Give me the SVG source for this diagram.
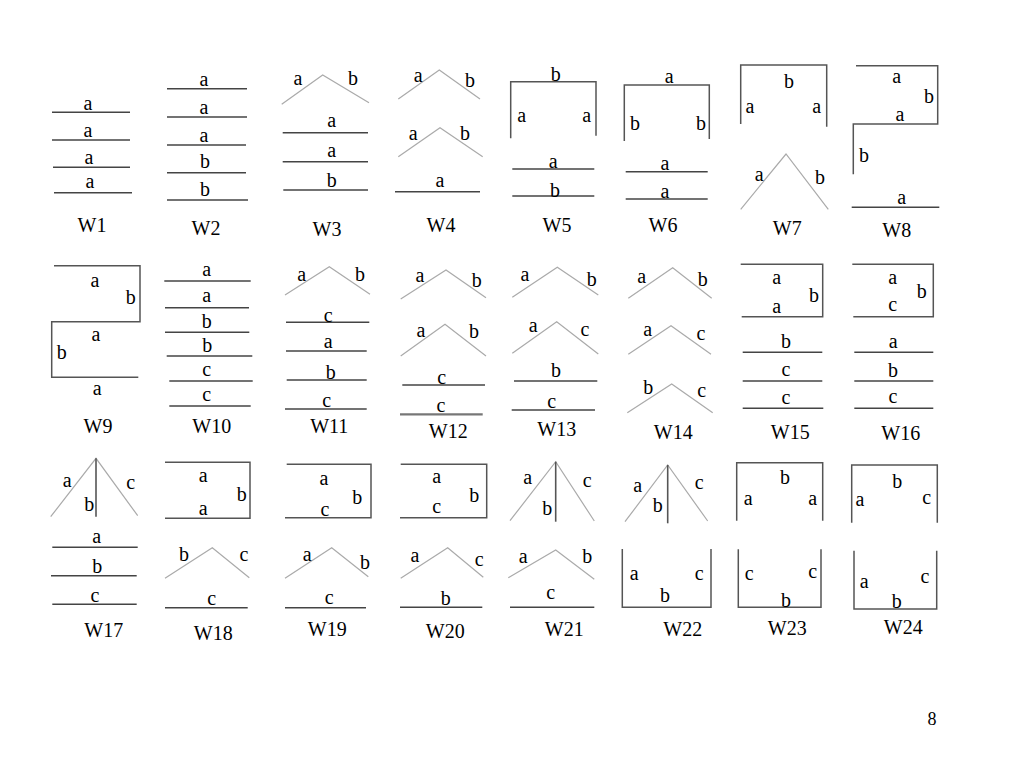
<svg xmlns="http://www.w3.org/2000/svg" width="1024" height="768" viewBox="0 0 1024 768" font-family="Liberation Serif, DejaVu Serif, serif">
<style>
text{font-family:'Liberation Serif','DejaVu Serif',serif;font-size:20px;fill:#000;text-anchor:middle}
.h{stroke:#444;stroke-width:1.5;fill:none}
.r{stroke:#aaa;stroke-width:1.2;fill:none}
.bx{stroke:#555;stroke-width:1.5;fill:none}
.v{stroke:#555;stroke-width:1.6;fill:none}
</style>
<rect width="1024" height="768" fill="#fff"/>

<g id="W1">
<line class="h" x1="52" y1="112.3" x2="130" y2="112.3"/>
<line class="h" x1="52" y1="140" x2="130" y2="140"/>
<line class="h" x1="53" y1="167.3" x2="130" y2="167.3"/>
<line class="h" x1="54" y1="192.7" x2="132" y2="192.7"/>
<text x="88" y="110">a</text><text x="88" y="137">a</text><text x="89" y="164">a</text><text x="90" y="188">a</text>
<text x="92" y="231.7">W1</text>
</g>

<g id="W2">
<line class="h" x1="167" y1="88.7" x2="247" y2="88.7"/>
<line class="h" x1="167" y1="117" x2="247" y2="117"/>
<line class="h" x1="167" y1="145" x2="246" y2="145"/>
<line class="h" x1="167" y1="172.7" x2="246" y2="172.7"/>
<line class="h" x1="167" y1="200" x2="248" y2="200"/>
<text x="204" y="85.7">a</text><text x="204" y="114">a</text><text x="204" y="141.7">a</text><text x="205" y="168.3">b</text><text x="205" y="195.7">b</text>
<text x="206" y="235">W2</text>
</g>

<g id="W3">
<polyline class="r" points="281.7,104.3 322.7,75 369,102.7"/>
<text x="298" y="85">a</text><text x="353" y="85">b</text>
<line class="h" x1="282.7" y1="132.7" x2="368" y2="132.7"/>
<line class="h" x1="282.7" y1="161.7" x2="368" y2="161.7"/>
<line class="h" x1="283.3" y1="190" x2="368" y2="190"/>
<text x="331.7" y="126.7">a</text><text x="331.7" y="156.7">a</text><text x="331.7" y="186.7">b</text>
<text x="327" y="236">W3</text>
</g>

<g id="W4">
<polyline class="r" points="398.3,99 439.3,70 480,99"/>
<text x="418.3" y="81.7">a</text><text x="470" y="86.7">b</text>
<polyline class="r" points="398.3,156.7 440,127.7 482.7,156.7"/>
<text x="413.3" y="140">a</text><text x="465" y="140">b</text>
<line class="h" x1="395" y1="191.7" x2="480" y2="191.7"/>
<text x="440" y="186.7">a</text>
<text x="441" y="231.7">W4</text>
</g>

<g id="W5">
<polyline class="bx" points="510.7,138.3 510.7,81.7 596,81.7 596,135.7"/>
<text x="555.7" y="81">b</text>
<text x="521.7" y="121.7">a</text><text x="586.7" y="121.7">a</text>
<line class="h" x1="512.3" y1="169" x2="594.3" y2="169"/>
<line class="h" x1="512.3" y1="196" x2="594.3" y2="196"/>
<text x="553.3" y="167.7">a</text><text x="555" y="196.7">b</text>
<text x="557" y="231.7">W5</text>
</g>

<g id="W6">
<polyline class="bx" points="624.3,141 624.3,85 709.3,85 709.3,139"/>
<text x="669.3" y="83.3">a</text>
<text x="635" y="130">b</text><text x="701" y="130">b</text>
<line class="h" x1="625.7" y1="171.7" x2="707.7" y2="171.7"/>
<line class="h" x1="625.7" y1="199" x2="707.7" y2="199"/>
<text x="665" y="170">a</text><text x="665" y="197.7">a</text>
<text x="663" y="231.7">W6</text>
</g>

<g id="W7">
<polyline class="bx" points="740.7,124 740.7,65 826.7,65 826.7,126.7"/>
<text x="789" y="88.3">b</text>
<text x="750" y="113.3">a</text><text x="816.7" y="113.3">a</text>
<polyline class="r" points="740.7,209.3 786,154 828.3,209.3"/>
<text x="759.3" y="180.7">a</text><text x="820" y="184">b</text>
<text x="787.3" y="235">W7</text>
</g>

<g id="W8">
<polyline class="bx" points="856,65.7 937.7,65.7 937.7,124 853.3,124 853.3,174.3"/>
<text x="896.7" y="83.3">a</text><text x="929" y="103.3">b</text><text x="900" y="120.7">a</text><text x="864" y="161.7">b</text>
<line class="h" x1="851.7" y1="207.3" x2="939.3" y2="207.3"/>
<text x="901.7" y="204">a</text>
<text x="896.7" y="236.7">W8</text>
</g>

<g id="W9">
<polyline class="bx" points="54,265.7 140,265.7 140,321.7 51.7,321.7 51.7,377.3 138.3,377.3"/>
<text x="95" y="287.3">a</text><text x="130.7" y="304.3">b</text><text x="96" y="341">a</text><text x="61.7" y="359.3">b</text>
<text x="97.3" y="395">a</text>
<text x="98" y="433.3">W9</text>
</g>

<g id="W10">
<line class="h" x1="164.3" y1="281" x2="250.7" y2="281"/>
<line class="h" x1="165" y1="307.7" x2="249" y2="307.7"/>
<line class="h" x1="165" y1="332.3" x2="249.3" y2="332.3"/>
<line class="h" x1="166.7" y1="356" x2="252.3" y2="356"/>
<line class="h" x1="169.3" y1="381" x2="252.7" y2="381"/>
<line class="h" x1="169.3" y1="406" x2="250.7" y2="406"/>
<text x="206.7" y="276">a</text><text x="206.7" y="301.7">a</text><text x="206.7" y="328.3">b</text><text x="207.3" y="351.7">b</text><text x="206.7" y="375.7">c</text><text x="206.7" y="401">c</text>
<text x="211.7" y="433.3">W10</text>
</g>

<g id="W11">
<polyline class="r" points="285,295 329.3,266.7 370,294.3"/>
<text x="301.7" y="281">a</text><text x="360" y="281">b</text>
<line class="h" x1="286" y1="322.3" x2="369.3" y2="322.3"/>
<line class="h" x1="286" y1="351" x2="366.7" y2="351"/>
<line class="h" x1="286.7" y1="380" x2="366.7" y2="380"/>
<line class="h" x1="285" y1="409" x2="366.7" y2="409"/>
<text x="328.3" y="321.7">c</text><text x="328.3" y="348.3">a</text><text x="330.7" y="379">b</text><text x="326.7" y="406.7">c</text>
<text x="329.3" y="433.3">W11</text>
</g>

<g id="W12">
<polyline class="r" points="400.7,299 446,270 486,297.7"/>
<text x="420" y="281.7">a</text><text x="476.7" y="287.3">b</text>
<polyline class="r" points="400.7,356 445,324.3 486,356"/>
<text x="421" y="336.7">a</text><text x="474" y="338.3">b</text>
<line class="h" x1="402.3" y1="385" x2="485" y2="385"/>
<line class="h" x1="400" y1="414.3" x2="482.7" y2="414.3" style="stroke:#777;stroke-width:2.2"/>
<text x="441.7" y="384.3">c</text><text x="441" y="412.3">c</text>
<text x="448.3" y="437.7">W12</text>
</g>

<g id="W13">
<polyline class="r" points="512.3,297.3 557.3,267.3 598.3,295"/>
<text x="525" y="281">a</text><text x="591.7" y="285.7">b</text>
<polyline class="r" points="512.3,353.3 556.7,321.7 598.3,354"/>
<text x="533.3" y="332.3">a</text><text x="585" y="335.7">c</text>
<line class="h" x1="514" y1="381" x2="597.3" y2="381"/>
<line class="h" x1="511.7" y1="410" x2="595" y2="410"/>
<text x="556" y="376.7">b</text><text x="551.7" y="408.3">c</text>
<text x="556.7" y="436">W13</text>
</g>

<g id="W14">
<polyline class="r" points="628.3,298.3 672.7,267.7 711.7,298.3"/>
<text x="641.7" y="283.3">a</text><text x="702.7" y="285.7">b</text>
<polyline class="r" points="628.3,354.3 671,325.7 711,354.3"/>
<text x="647.7" y="335.7">a</text><text x="701" y="340">c</text>
<polyline class="r" points="627.3,412.7 671.7,384 712.7,412.7"/>
<text x="648.3" y="394">b</text><text x="701.7" y="396.7">c</text>
<text x="673.3" y="439.3">W14</text>
</g>

<g id="W15">
<polyline class="bx" points="740.7,264.3 822.7,264.3 822.7,316.7 741.7,316.7"/>
<text x="776.7" y="284.3">a</text><text x="776.7" y="313.3">a</text><text x="814" y="301.7">b</text>
<line class="h" x1="742.7" y1="352.3" x2="822.3" y2="352.3"/>
<line class="h" x1="742.7" y1="381" x2="822.3" y2="381"/>
<line class="h" x1="742.7" y1="408.3" x2="823.3" y2="408.3"/>
<text x="786" y="347.7">b</text><text x="786" y="375.7">c</text><text x="786" y="404.3">c</text>
<text x="790.3" y="439.3">W15</text>
</g>

<g id="W16">
<polyline class="bx" points="852.3,264.3 933.3,264.3 933.3,316.7 853.3,316.7"/>
<text x="892.7" y="284.3">a</text><text x="892.7" y="311">c</text><text x="921.7" y="298.3">b</text>
<line class="h" x1="854.3" y1="352.3" x2="933.3" y2="352.3"/>
<line class="h" x1="854.3" y1="381" x2="933.3" y2="381"/>
<line class="h" x1="854.3" y1="408.3" x2="933.3" y2="408.3"/>
<text x="893.3" y="347.7">a</text><text x="893" y="376.7">b</text><text x="893" y="403.3">c</text>
<text x="900.7" y="440">W16</text>
</g>

<g id="W17">
<polyline class="r" points="50.7,516.7 96,458.3 137.7,515.7"/>
<line class="v" x1="96" y1="458.3" x2="96" y2="516.7"/>
<text x="67.3" y="487.3">a</text><text x="89.3" y="511">b</text><text x="130.7" y="489.3">c</text>
<line class="h" x1="52.3" y1="547.3" x2="137.7" y2="547.3"/>
<line class="h" x1="51" y1="575.7" x2="136.7" y2="575.7"/>
<line class="h" x1="52.3" y1="604.3" x2="136.7" y2="604.3"/>
<text x="96.7" y="542.7">a</text><text x="97.3" y="572.7">b</text><text x="95" y="601.7">c</text>
<text x="103.7" y="636.7">W17</text>
</g>

<g id="W18">
<polyline class="bx" points="165,462.3 250,462.3 250,518.3 165,518.3"/>
<text x="203.3" y="482.3">a</text><text x="203.3" y="515">a</text><text x="241.7" y="500.7">b</text>
<polyline class="r" points="165,578.3 212.3,547.7 249.3,577.7"/>
<text x="184" y="561">b</text><text x="244" y="561">c</text>
<line class="h" x1="165" y1="607.7" x2="247.7" y2="607.7"/>
<text x="211.7" y="605">c</text>
<text x="213.3" y="640">W18</text>
</g>

<g id="W19">
<polyline class="bx" points="286.7,464.3 371,464.3 371,517.7 285,517.7"/>
<text x="324" y="485">a</text><text x="357.3" y="504.3">b</text><text x="325" y="515.7">c</text>
<polyline class="r" points="285,578.3 331.7,547.7 368.3,576.7"/>
<text x="307.3" y="561">a</text><text x="365" y="569.3">b</text>
<line class="h" x1="285" y1="607.7" x2="366" y2="607.7"/>
<text x="329.3" y="604.3">c</text>
<text x="327.3" y="636">W19</text>
</g>

<g id="W20">
<polyline class="bx" points="400.7,464.3 486.7,464.3 486.7,517.7 400,517.7"/>
<text x="436.7" y="483.3">a</text><text x="436.7" y="513.3">c</text><text x="474.3" y="501.7">b</text>
<polyline class="r" points="400.7,578.3 447.7,547.7 483.3,577.3"/>
<text x="415" y="561.7">a</text><text x="479.3" y="566">c</text>
<line class="h" x1="400" y1="607.3" x2="482.3" y2="607.3"/>
<text x="445.7" y="605">b</text>
<text x="445.3" y="638.3">W20</text>
</g>

<g id="W21">
<polyline class="r" points="510,520.7 555.7,461.7 594.3,521"/>
<line class="v" x1="555.7" y1="461.7" x2="555.7" y2="521.7"/>
<text x="527.7" y="484.3">a</text><text x="547.3" y="515">b</text><text x="587.3" y="486.7">c</text>
<polyline class="r" points="508.3,577.7 555.7,550 594.3,579.3"/>
<text x="523.3" y="563.3">a</text><text x="587.3" y="563.3">b</text>
<line class="h" x1="510" y1="607.3" x2="594.3" y2="607.3"/>
<text x="550.7" y="599.3">c</text>
<text x="564.3" y="635.7">W21</text>
</g>

<g id="W22">
<polyline class="r" points="625,521.7 667.7,465 707.7,521"/>
<line class="v" x1="667.7" y1="465" x2="667.7" y2="523.3"/>
<text x="637.7" y="492.3">a</text><text x="657.7" y="511.7">b</text><text x="699.3" y="489.3">c</text>
<polyline class="bx" points="622.3,549 622.3,607.3 711,607.3 711,549"/>
<text x="634.3" y="580">a</text><text x="699.3" y="580">c</text><text x="665" y="601.7">b</text>
<text x="682.7" y="636">W22</text>
</g>

<g id="W23">
<polyline class="bx" points="736.7,520.7 736.7,462.7 822.7,462.7 822.7,520.7"/>
<text x="785" y="484">b</text><text x="748.3" y="505">a</text><text x="812.7" y="505">a</text>
<polyline class="bx" points="738.3,549.3 738.3,607.3 821,607.3 821,549.3"/>
<text x="749.3" y="580">c</text><text x="812.7" y="577.7">c</text><text x="786" y="606.7">b</text>
<text x="787.3" y="635">W23</text>
</g>

<g id="W24">
<polyline class="bx" points="851.7,522.7 851.7,465 937.3,465 937.3,522.7"/>
<text x="897.3" y="488.3">b</text><text x="860" y="505.7">a</text><text x="926.7" y="504">c</text>
<polyline class="bx" points="854,550.7 854,609 936.7,609 936.7,550.7"/>
<text x="864.3" y="587.7">a</text><text x="925" y="582.7">c</text><text x="896.7" y="608.3">b</text>
<text x="903.3" y="634">W24</text>
</g>

<g id="page">
<text x="932" y="725" style="font-size:18px">8</text>
</g>
</svg>
